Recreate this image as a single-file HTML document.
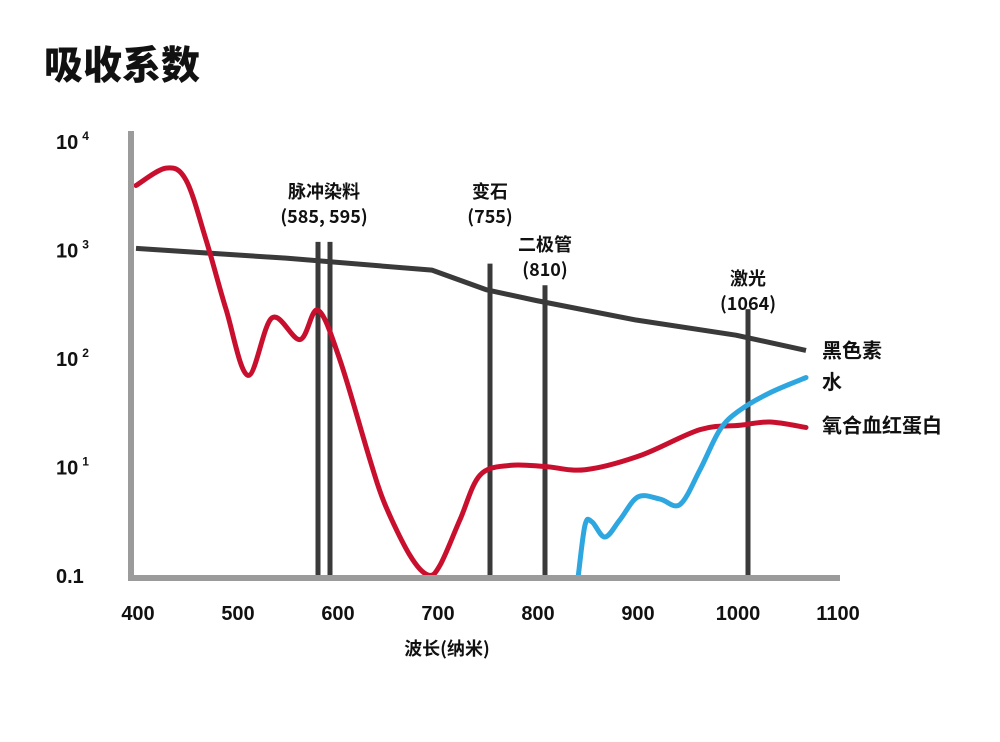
<!DOCTYPE html>
<html><head><meta charset="utf-8"><style>
body{margin:0;background:#fff;}
svg text{font-family:"Liberation Sans","Noto Sans CJK SC",sans-serif;font-weight:bold;fill:#111;}
svg text.cjk{font-family:"Noto Sans CJK SC",sans-serif;}
</style></head><body>
<svg id="chart" width="1000" height="737" viewBox="0 0 1000 737" xmlns="http://www.w3.org/2000/svg">
<text x="44" y="79" font-size="39" style="font-family:'Noto Sans CJK SC',sans-serif;font-weight:900">吸收系数</text>
<text class="cjk" x="447" y="655" font-size="18" text-anchor="middle">波长(纳米)</text>
</svg>
<script>
const xTicks=[400,500,600,700,800,900,1000,1100];
const yTickExp=[0,1,2,3,4];
const yTickLabels=["0.1","10","10","10","10"];
const yTickSup=["","1","2","3","4"];
const melaninNm=[400,550,696,750,800,900,1000,1070];
const melaninLog=[3.01,2.92,2.81,2.63,2.53,2.35,2.21,2.07];
const hemoNm=[400,430,450,470,490,512,536,564,582,604,634,649,674,692,704,724,744,774,809,849,904,964,1004,1034,1070];
const hemoLog=[3.59,3.75,3.64,3.09,2.45,1.84,2.37,2.17,2.44,1.98,1.06,0.65,0.18,0.0,0.09,0.51,0.92,1.01,1.0,0.97,1.1,1.34,1.38,1.41,1.36];
const waterNm=[842,849,856,869,884,902,924,944,964,984,1004,1034,1070];
const waterLog=[-0.03,0.46,0.49,0.35,0.51,0.72,0.70,0.65,0.97,1.34,1.52,1.68,1.82];
const laserNm=[582,594,754,809,1012];
const laserName=["","脉冲染料","变石","二极管","激光"];
const laserWl=["","(585, 595)","(755)","(810)","(1064)"];
const laserTopLog=[3.07,3.07,2.87,2.67,2.45];
const seriesLabels=["黑色素","水","氧合血红蛋白"];
const seriesLabelY=[2.07,1.78,1.38];

const NS="http://www.w3.org/2000/svg";
const svg=document.getElementById('chart');
const X=nm=>136+(nm-400);
const Y=v=>575-v*108.5;
function mk(tag,attrs,parent){const e=document.createElementNS(NS,tag);for(const k in attrs)e.setAttribute(k,attrs[k]);(parent||svg).appendChild(e);return e;}

laserNm.forEach((nm,i)=>{
  const l=mk('line',{x1:X(nm),x2:X(nm),y1:Y(laserTopLog[i]),y2:577,stroke:'#3a3a3a','stroke-width':5});
  
  
});
[[1,(X(582)+X(594))/2,198,223],[2,X(754),198,223],[3,X(809),251,276],[4,X(1012),285,310]].forEach(([i,cx,y1,y2])=>{
  const t=mk('text',{x:cx,y:y1,'font-size':18,'text-anchor':'middle',class:'cjk'});t.textContent=laserName[i];
  
  
  const t2=mk('text',{x:cx,y:y2,'font-size':18,'text-anchor':'middle',class:'cjk'});t2.textContent=laserWl[i];
  
  
});

function smooth(nms,logs){const p=nms.map((n,i)=>[X(n),Y(logs[i])]);let d='M'+p[0][0]+','+p[0][1];
  for(let i=0;i<p.length-1;i++){const p0=p[Math.max(0,i-1)],p1=p[i],p2=p[i+1],p3=p[Math.min(p.length-1,i+2)];
    const c1=[p1[0]+(p2[0]-p0[0])/6,p1[1]+(p2[1]-p0[1])/6],c2=[p2[0]-(p3[0]-p1[0])/6,p2[1]-(p3[1]-p1[1])/6];
    d+=`C${c1[0]},${c1[1]} ${c2[0]},${c2[1]} ${p2[0]},${p2[1]}`;}return d;}
const mel=mk('polyline',{points:melaninNm.map((n,i)=>X(n)+','+Y(melaninLog[i])).join(' '),fill:'none',stroke:'#3a3a3a','stroke-width':5,'stroke-linejoin':'round'});


const hem=mk('path',{d:smooth(hemoNm,hemoLog),fill:'none',stroke:'#c8102e','stroke-width':5,'stroke-linecap':'round'});


const wat=mk('path',{d:smooth(waterNm,waterLog),fill:'none',stroke:'#2ea6df','stroke-width':5,'stroke-linecap':'round'});



const ya=mk('line',{x1:131,x2:131,y1:131,y2:580,stroke:'#9b9b9b','stroke-width':6});


const xa=mk('line',{x1:128,x2:840,y1:578,y2:578,stroke:'#9b9b9b','stroke-width':6});



xTicks.forEach(v=>{const t=mk('text',{x:X(v)+2,y:620,'font-size':20,'text-anchor':'middle'});t.textContent=v;
  
  });
yTickExp.forEach((e,i)=>{const t=mk('text',{x:56,y:Y(e)+8,'font-size':20});t.textContent=yTickLabels[i];
  
  
  if(yTickSup[i]){const s=mk('tspan',{dx:4,dy:-9,'font-size':12},t);s.textContent=yTickSup[i];}});
seriesLabels.forEach((s,i)=>{const t=mk('text',{x:822,y:Y(seriesLabelY[i])+7,'font-size':20,class:'cjk'});t.textContent=s;
  
  });
</script>
</body></html>
